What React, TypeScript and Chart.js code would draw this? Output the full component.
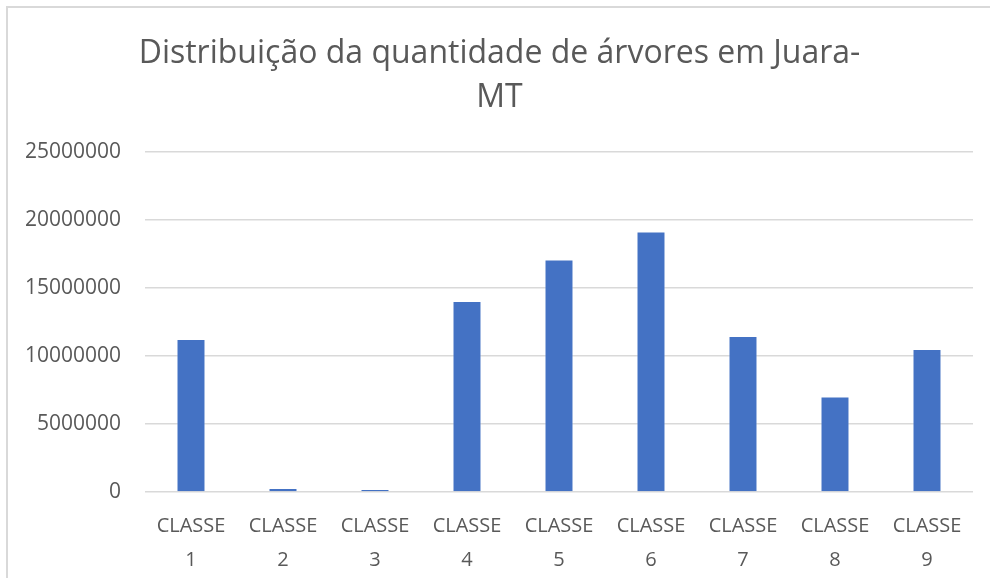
import React, { useEffect, useRef } from "react";
import { Chart, registerables } from "chart.js";

Chart.register(...registerables);

const TITLE_LINES = ["Distribuição da quantidade de árvores em Juara-", "MT"];
const CATEGORIES = [
  ["CLASSE", "1"],
  ["CLASSE", "2"],
  ["CLASSE", "3"],
  ["CLASSE", "4"],
  ["CLASSE", "5"],
  ["CLASSE", "6"],
  ["CLASSE", "7"],
  ["CLASSE", "8"],
  ["CLASSE", "9"],
];
const VALUES = [11230000, 290000, 220000, 14020000, 17080000, 19140000, 11450000, 7010000, 10510000];
const Y_MIN = 0;
const Y_MAX = 25000000;
const Y_STEP = 5000000;

const FONT = "'Open Sans', 'Noto Sans', sans-serif";
const TEXT_COLOR = "#595959";
const BAR_COLOR = "#4472C4";
const GRID_COLOR = "#d9d9d9";

export default function App() {
  const ref = useRef<HTMLCanvasElement | null>(null);

  useEffect(() => {
    if (!ref.current) return;
    const chart = new Chart(ref.current, {
      type: "bar",
      data: {
        labels: CATEGORIES,
        datasets: [
          {
            data: VALUES,
            backgroundColor: BAR_COLOR,
            borderColor: "rgba(255,255,255,0.35)",
            borderWidth: 1,
            categoryPercentage: 1,
            barPercentage: 0.315,
          },
        ],
      },
      options: {
        responsive: false,
        animation: false,
        layout: { padding: { left: 18, right: 17, top: 0, bottom: 4 } },
        plugins: {
          legend: { display: false },
          tooltip: { enabled: false },
          title: {
            display: true,
            text: TITLE_LINES,
            color: TEXT_COLOR,
            font: { family: FONT, size: 32, weight: "normal", lineHeight: 1.4 },
            padding: { top: 23, bottom: 31 },
          },
        },
        scales: {
          x: {
            grid: { display: false, drawTicks: false },
            border: { display: false },
            ticks: {
              color: TEXT_COLOR,
              font: { family: FONT, size: 20, lineHeight: 1.72 },
              padding: 17,
              maxRotation: 0,
              autoSkip: false,
            },
            afterFit: (s: any) => {
              s.height = 82;
            },
          },
          y: {
            min: Y_MIN,
            max: Y_MAX,
            grid: { color: GRID_COLOR, lineWidth: 1.5, drawTicks: false },
            border: { display: false },
            ticks: {
              stepSize: Y_STEP,
              color: TEXT_COLOR,
              font: { family: FONT, size: 21 },
              padding: 24,
              callback: (v: any) => String(v),
            },
            afterFit: (s: any) => {
              s.width = 119;
            },
          },
        },
      },
    });
    return () => chart.destroy();
  }, []);

  return (
    <div
      style={{
        position: "absolute",
        left: 6,
        top: 6,
        width: 984,
        height: 572,
        boxSizing: "border-box",
        borderLeft: "2px solid #d9d9d9",
        borderTop: "2px solid #d9d9d9",
      }}
    >
      <canvas ref={ref} width={982} height={570} style={{ display: "block" }} />
    </div>
  );
}
